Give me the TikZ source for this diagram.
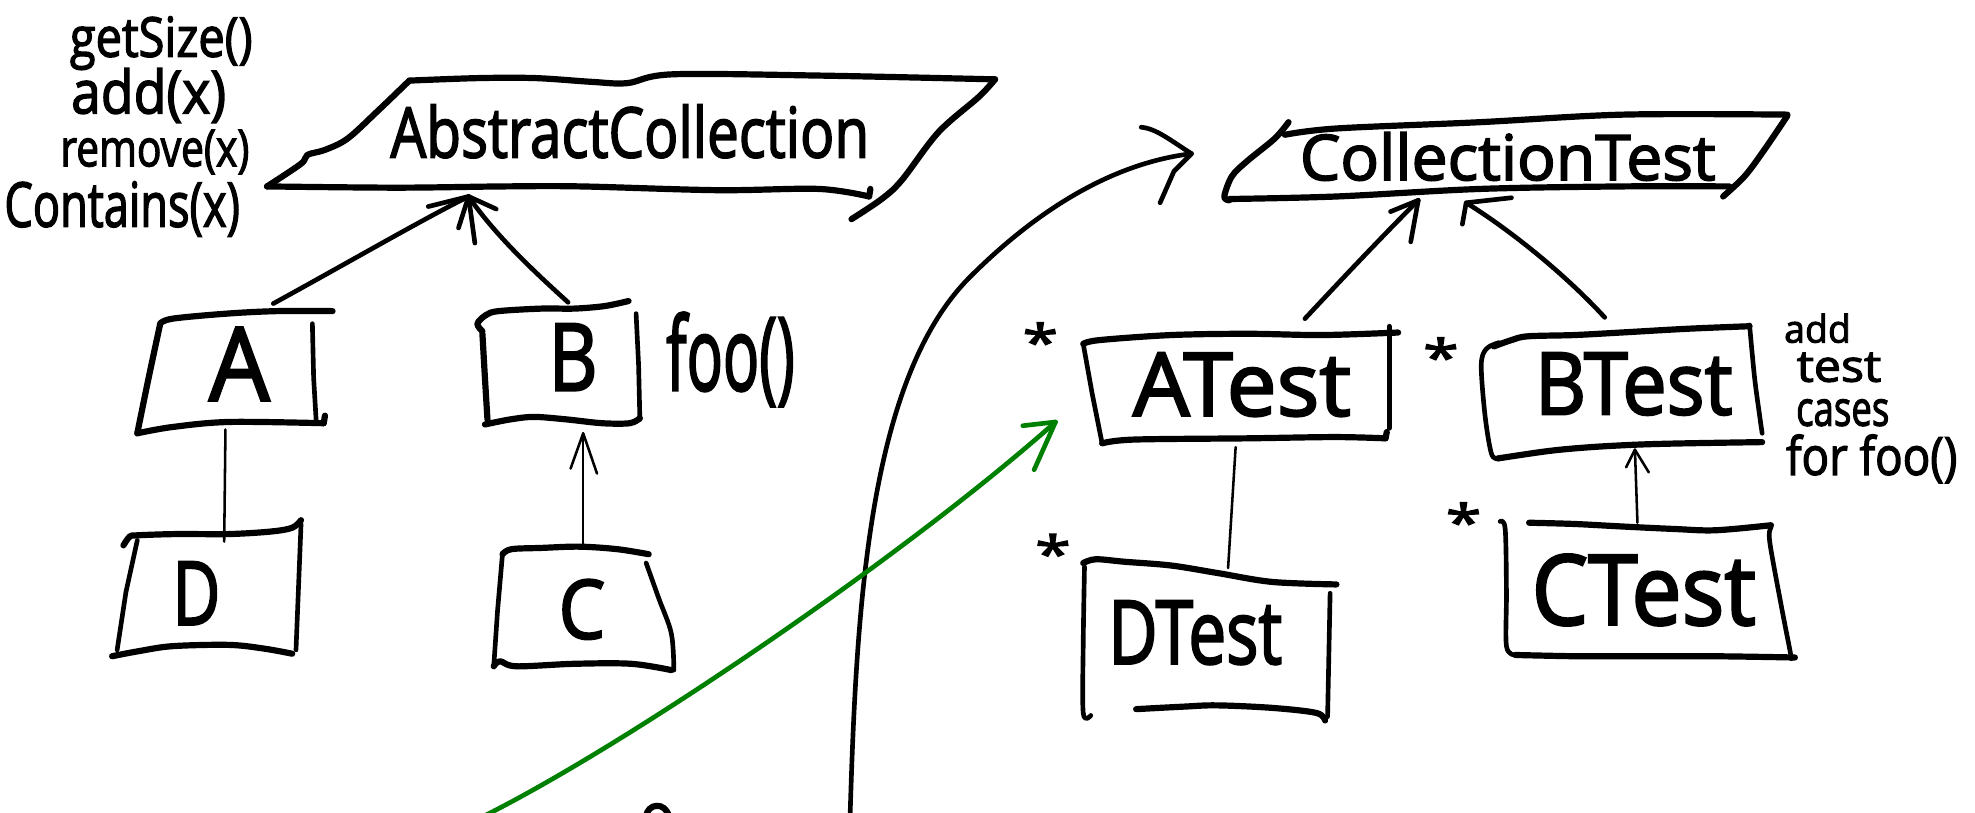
\documentclass[tikz,border=0pt]{standalone}
\usepackage{fontspec}
\setmainfont{Open Sans}
\newfontfamily\handfont{Open Sans}[FakeBold=2.5]
\usepackage{graphicx}
\newlength\pxu
\setlength\pxu{0.02cm}
\newcommand\hw[3]{\resizebox{#1\pxu}{#2\pxu}{\handfont #3}}
\definecolor{inkgreen}{RGB}{0,128,0}
\tikzset{
  ink/.style={line width=2.8pt, line cap=round, line join=round},
  wire/.style={line width=2.1pt, line cap=round, line join=round},
  thinwire/.style={line width=1.15pt, line cap=round, line join=round},
  greenink/.style={line width=2.1pt, draw=inkgreen, line cap=round, line join=round},
  lbl/.style={inner sep=0pt, anchor=base},
  sm/.style={smooth, tension=0.55}
}
\begin{document}
\begin{tikzpicture}[x=0.02cm,y=-0.02cm]
\useasboundingbox (0,0) rectangle (1568,645);

% ---------- left method list ----------
\node[lbl] (m1) at (128,45) {\hw{145}{32}{getSize()}};
\node[lbl] (m2) at (118,90) {\hw{123}{36}{add(x)}};
\node[lbl] (m3) at (123,132) {\hw{150}{29}{remove(x)}};
\node[lbl] (m4) at (97,180) {\hw{187}{36}{Contains(x)}};

% ---------- AbstractCollection ----------
\draw[ink] plot[sm] coordinates {(325,64) (380,62) (425,62) (470,65) (498,66) (534,59) (650,60) (790,63)};
\draw[ink] plot[sm] coordinates {(325,64) (300,88) (276,110) (258,119) (244,123) (239,130) (212,148)};
\draw[ink] plot[sm] coordinates {(212,148) (315,149) (400,148) (461,148) (570,151) (650,150) (690,156)};
\draw[ink] (690,156) -- (691,150);
\draw[ink] plot[sm] coordinates {(676,174) (700,158) (716,143) (745,105) (777,77) (790,63)};
\node[lbl] (ac) at (500,125) {\hw{380}{42}{AbstractCollection}};

% ---------- CollectionTest ----------
\draw[ink] plot[sm] coordinates {(1020,107) (1061,102) (1175,97) (1289,91) (1419,91)};
\draw[ink] plot[sm] coordinates {(1023,97) (1012,110) (990,128) (978,140) (972,156) (976,159)};
\draw[ink] plot[sm] coordinates {(976,158) (1061,156) (1175,150) (1289,148) (1373,148)};
\draw[ink] plot[sm] coordinates {(1419,92) (1400,120) (1385,140) (1368,156)};
\node[lbl] (ct) at (1197,143) {\hw{330}{38}{CollectionTest}};

% ---------- A ----------
\draw[ink] plot[sm] coordinates {(127,257) (137,253) (180,249) (220,247) (264,247)};
\draw[ink] plot[sm] coordinates {(127,258) (118,300) (109,344)};
\draw[ink] plot[sm] coordinates {(109,344) (137,339) (182,335) (257,336)};
\draw[ink] (257,336) -- (258,330);
\draw[wire] (248,257) -- (249,300) -- (251,334);
\node[lbl] (a) at (190,318) {\hw{48}{58}{A}};

% ---------- B ----------
\draw[ink] plot[sm] coordinates {(383,263) (379,257) (386,250) (396,247) (430,245) (456,245) (480,243) (499,239)};
\draw[ink] plot[sm] coordinates {(383,265) (385,300) (387,333)};
\draw[ink] plot[sm] coordinates {(385,337) (405,333) (424,331) (450,333) (478,336) (500,336) (508,332)};
\draw[wire] (505,249) -- (507,290) -- (508,333);
\node[lbl] (b) at (455,310) {\hw{39}{53}{B}};
\node[lbl] (foo) at (580,310) {\hw{102}{62}{foo()}};

% ---------- D ----------
\draw[ink] plot[sm] coordinates {(98,433) (103,426) (109,425) (140,424) (182,424) (215,422) (232,419) (239,413)};
\draw[wire] (109,429) -- (100,470) -- (93,516);
\draw[ink] plot[sm] coordinates {(89,521) (110,517) (137,513) (182,512) (210,515) (232,519)};
\draw[wire] (239,416) -- (237,466) -- (235,516);
\node[lbl] (d) at (156,496) {\hw{38}{50}{D}};

% ---------- C ----------
\draw[ink] plot[sm] coordinates {(399,440) (406,436) (430,435) (460,434) (490,436) (515,440)};
\draw[wire] (399,439) -- (395,485) -- (392,529);
\draw[ink] plot[sm] coordinates {(392,529) (397,525) (410,529) (456,527) (501,527) (533,532)};
\draw[wire] plot[sm] coordinates {(513,447) (523,475) (533,503) (535,532)};
\node[lbl] (c) at (462,507) {\hw{37}{47}{C}};

% ---------- ATest ----------
\draw[ink] plot[sm] coordinates {(860,273) (873,270) (930,266) (991,265) (1050,266) (1110,264)};
\draw[wire] (860,273) -- (867,312) -- (875,352);
\draw[ink] plot[sm] coordinates {(875,352) (900,349) (991,348) (1060,347) (1100,348)};
\draw[ink] (1100,348) -- (1101,343);
\draw[wire] (1103,259) -- (1103,300) -- (1103,340);
\node[lbl] (at) at (986,330) {\hw{173}{50}{ATest}};
\node[lbl] (s1) at (826,286) {\hw{28}{30}{*}};

% ---------- BTest ----------
\draw[ink] plot[sm] coordinates {(1186,275) (1200,270) (1213,267) (1250,266) (1287,264) (1340,261) (1389,259)};
\draw[wire] plot[sm] coordinates {(1190,272) (1180,277) (1176,290) (1179,330) (1184,360) (1189,364)};
\draw[ink] plot[sm] coordinates {(1189,364) (1230,358) (1263,355) (1300,353) (1337,352) (1399,351)};
\draw[wire] plot[sm] coordinates {(1389,258) (1393,300) (1397,330) (1399,344)};
\node[lbl] (bt) at (1297,329) {\hw{157}{49}{BTest}};
\node[lbl] (s2) at (1144,298) {\hw{28}{30}{*}};
\node[lbl] (n1) at (1443,272) {\hw{53}{23}{add}};
\node[lbl] (n2) at (1460,303) {\hw{67}{23}{test}};
\node[lbl] (n3) at (1463,338) {\hw{74}{21}{cases}};
\node[lbl] (n4) at (1486,377) {\hw{136}{32}{for foo()}};

% ---------- DTest ----------
\draw[ink] plot[sm] coordinates {(860,447) (870,444) (893,446) (930,449) (967,455) (1010,462) (1061,464)};
\draw[wire] plot[sm] coordinates {(861,450) (860,510) (860,566) (866,568)};
\draw[wire] (1056,471) -- (1055,520) -- (1054,569);
\draw[ink] plot[sm] coordinates {(902,563) (940,561) (966,560) (1010,562) (1045,566) (1052,572)};
\node[lbl] (dt) at (949,527) {\hw{138}{50}{DTest}};
\node[lbl] (s3) at (836,454) {\hw{28}{30}{*}};

% ---------- CTest ----------
\draw[ink] plot[sm] coordinates {(1214,415) (1250,416) (1288,418) (1330,420) (1362,421) (1406,417)};
\draw[wire] plot[sm] coordinates {(1191,414) (1195,420) (1196,470) (1196,513) (1203,520)};
\draw[ink] plot[sm] coordinates {(1203,520) (1250,521) (1287,521) (1360,521) (1425,522)};
\draw[wire] plot[sm] coordinates {(1406,419) (1405,430) (1414,480) (1421,516) (1422,523)};
\node[lbl] (ctt) at (1305,496) {\hw{178}{56}{CTest}};
\node[lbl] (s4) at (1162,429) {\hw{28}{30}{*}};

% ---------- connector end points ----------
\coordinate (acTip) at (372,156);
\coordinate (aTop) at (217,241);
\coordinate (bTop) at (451,240);
\coordinate (aBot) at (179,341);
\coordinate (dTop) at (178,430);
\coordinate (cTop) at (463,435);
\coordinate (bBot) at (463,344);
\coordinate (atTop) at (1036,253);
\coordinate (ctTipL) at (1126,159);
\coordinate (btTop) at (1274,252);
\coordinate (ctTipR) at (1164,161);
\coordinate (atBot) at (981,355);
\coordinate (dtTop) at (975,451);
\coordinate (cttTop) at (1300,415);
\coordinate (btBot) at (1298,357);
\coordinate (curveStart) at (675,645);
\coordinate (curveTip) at (946,122);
\coordinate (greenStart) at (384,648);
\coordinate (greenTip) at (838,335);

% ---------- connectors ----------
\draw[wire] (aTop) .. controls (279,207) and (334,175) .. (acTip);
\draw[wire] (bTop) .. controls (420,212) and (392,185) .. (acTip);
\draw[wire] (340,164) -- (acTip) -- (394,166);
\draw[wire] (364,181) -- (acTip);
\draw[wire] (377,193) -- (acTip);
\draw[thinwire] (aBot) -- (dTop);
\draw[thinwire] (cTop) -- (bBot);
\draw[thinwire] (453,372) -- (bBot) -- (474,376);

\draw[wire] (atTop) .. controls (1065,222) and (1095,190) .. (ctTipL);
\draw[wire] (1104,168) -- (ctTipL) -- (1120,192);
\draw[wire] (btTop) .. controls (1240,215) and (1195,180) .. (ctTipR);
\draw[wire] (1161,178) -- (ctTipR) -- (1200,157);
\draw[thinwire] (atBot) -- (dtTop);
\draw[thinwire] (cttTop) -- (btBot);
\draw[thinwire] (1291,371) -- (btBot) -- (1309,375);

% big black curve
\draw[wire] (curveStart) .. controls (680,480) and (690,300) .. (770,220)
  .. controls (820,170) and (880,130) .. (curveTip);
\draw[wire] (906,101) .. controls (918,102) and (930,112) .. (curveTip) -- (932,136) -- (921,161);

% green arrow
\draw[greenink] (greenStart) .. controls (500,590) and (720,440) .. (greenTip);
\draw[greenink] (812,338) -- (greenTip) -- (821,373);

% small cut-off mark at bottom
\draw[ink] (513,648) .. controls (514,638) and (528,636) .. (531,648);
\end{tikzpicture}
\end{document}
